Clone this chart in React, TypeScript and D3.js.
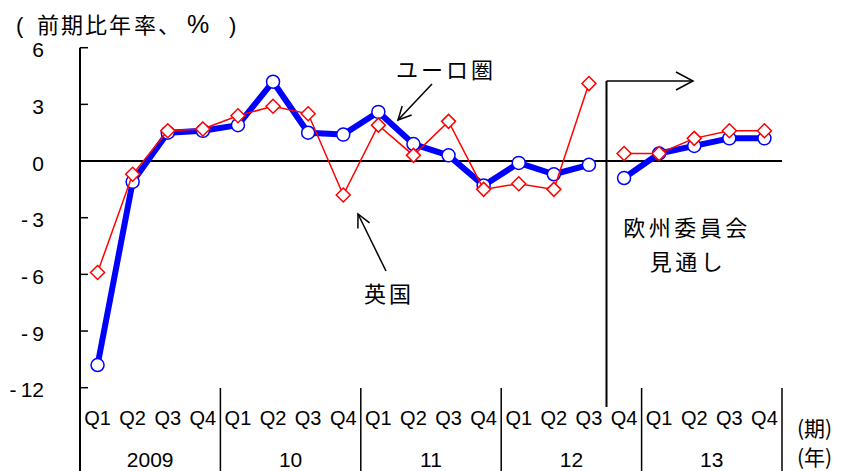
import React from "react";
import * as d3 from "d3";

const quarters = ["Q1","Q2","Q3","Q4","Q1","Q2","Q3","Q4","Q1","Q2","Q3","Q4","Q1","Q2","Q3","Q4","Q1","Q2","Q3","Q4"];
const years = ["2009", "10", "11", "12", "13"];
const euroArea = [-10.8,-1.1,1.5,1.6,1.9,4.2,1.5,1.4,2.6,0.9,0.3,-1.3,-0.1,-0.7,-0.2,-0.9,0.4,0.8,1.2,1.2];
const uk = [-5.9,-0.7,1.6,1.7,2.4,2.9,2.5,-1.8,1.9,0.3,2.1,-1.5,-1.2,-1.5,4.1,0.4,0.4,1.2,1.6,1.6];
const yTicks = [6, 3, 0, -3, -6, -9, -12];
const forecastStart = 15;
const titleChars = ["(", "前", "期", "比", "年", "率", "、", "%", ")"];

const W = 846, H = 471;
const LATIN = "'Liberation Sans', Arial, sans-serif";
const CJK = "'Noto Sans CJK JP', sans-serif";

export default function App() {
  const x = d3.scaleBand<number>().domain(d3.range(quarters.length)).range([80, 782]).padding(0);
  const y = d3.scaleLinear().domain([-12, 6]).range([387.7, 47.7]);
  const cx = (i: number) => (x(i) as number) + x.bandwidth() / 2;

  const line = d3.line<[number, number]>().x(d => cx(d[0])).y(d => y(d[1]));
  const seg = (vals: number[]) => {
    const pts = vals.map((v, i) => [i, v] as [number, number]);
    return [line(pts.slice(0, forecastStart)) || "", line(pts.slice(forecastStart)) || ""];
  };
  const euroSegs = seg(euroArea);
  const ukSegs = seg(uk);
  const y0 = y(0);
  const projX = x(forecastStart) as number;

  const arrowHead = (x1: number, y1: number, x2: number, y2: number, len = 13, half = 6.5) => {
    const dx = x2 - x1, dy = y2 - y1;
    const L = Math.hypot(dx, dy);
    const ux = dx / L, uy = dy / L;
    const bx = x2 - ux * len, by = y2 - uy * len;
    const px = -uy * half, py = ux * half;
    return `M${bx + px},${by + py}L${x2},${y2}L${bx - px},${by - py}`;
  };

  const diamond = (r: number) => `M0,${-r}L${r},0L0,${r}L${-r},0Z`;
  const titleX = [16, 37, 61, 85, 109, 134, 158, 187, 229];

  return (
    <svg width={W} height={H} style={{ position: "absolute", left: 0, top: 0, background: "#fff" }}>
      {/* title */}
      <text y={33} fontFamily={CJK} fontSize={22} fill="#000">
        {titleChars.map((c, i) => (
          <tspan key={i} x={titleX[i]} fontSize={c === "%" ? 25 : 22} fontFamily={c === "%" || c === "(" || c === ")" ? LATIN : CJK}>{c}</tspan>
        ))}
      </text>

      {/* y axis */}
      <line x1={80} x2={80} y1={y(6)} y2={H} stroke="#000" strokeWidth={2} />
      {yTicks.map(t => (
        <g key={t}>
          <line x1={80} x2={88} y1={y(t)} y2={y(t)} stroke="#000" strokeWidth={1.5} />
          <text x={44} y={y(t) + 9.5} textAnchor="end" fontFamily={LATIN} fontSize={21} fill="#000">
            {t < 0 ? "-\u2009" + Math.abs(t) : String(t)}
          </text>
        </g>
      ))}

      {/* zero line */}
      <line x1={80} x2={782} y1={y0} y2={y0} stroke="#000" strokeWidth={2} />

      {/* category separators */}
      {years.map((yr, k) => {
        const xs = (x(k * 4 + 3) as number) + x.bandwidth();
        const xStart = x(k * 4) as number;
        return (
          <g key={yr}>
            <line x1={xs} x2={xs} y1={388} y2={H} stroke="#000" strokeWidth={1.5} />
            <text x={(xStart + xs) / 2} y={467} textAnchor="middle" fontFamily={LATIN} fontSize={21} fill="#000">{yr}</text>
          </g>
        );
      })}
      {quarters.map((q, i) => (
        <text key={i} x={cx(i)} y={424.5} textAnchor="middle" fontFamily={LATIN} fontSize={20} fill="#000">{q}</text>
      ))}
      <text x={797} y={436} fontFamily={CJK} fontSize={21} fill="#000">(期)</text>
      <text x={797} y={465} fontFamily={CJK} fontSize={21} fill="#000">(年)</text>

      {/* projection marker */}
      <line x1={projX} x2={projX} y1={81} y2={407} stroke="#000" strokeWidth={2} />
      <line x1={projX} x2={693} y1={81} y2={81} stroke="#000" strokeWidth={1.5} />
      <path d={arrowHead(projX, 81, 693, 81, 17, 9)} fill="none" stroke="#000" strokeWidth={1.5} />
      <text x={687} y={236} textAnchor="middle" fontFamily={CJK} fontSize={22} letterSpacing={3.5} fill="#000">欧州委員会</text>
      <text x={688} y={270} textAnchor="middle" fontFamily={CJK} fontSize={22} letterSpacing={3.5} fill="#000">見通し</text>

      {/* euro area */}
      {euroSegs.map((d, k) => (
        <path key={k} d={d} fill="none" stroke="#0000ff" strokeWidth={6} strokeLinejoin="round" />
      ))}
      {euroArea.map((v, i) => (
        <circle key={i} cx={cx(i)} cy={y(v)} r={6.5} fill="#fff" stroke="#0000ff" strokeWidth={1.5} />
      ))}

      {/* uk */}
      {ukSegs.map((d, k) => (
        <path key={k} d={d} fill="none" stroke="#ff0000" strokeWidth={1.5} />
      ))}
      {uk.map((v, i) => (
        <path key={i} d={diamond(7)} transform={`translate(${cx(i)},${y(v)})`} fill="#fff" stroke="#ff0000" strokeWidth={1.5} />
      ))}

      {/* annotations */}
      <text x={396} y={78} fontFamily={CJK} fontSize={22} letterSpacing={3} fill="#000">ユーロ圏</text>
      <line x1={432} y1={84} x2={398} y2={120} stroke="#000" strokeWidth={1.5} />
      <path d={arrowHead(432, 84, 398, 120)} fill="none" stroke="#000" strokeWidth={1.5} />
      <text x={364} y={302} fontFamily={CJK} fontSize={22} letterSpacing={3} fill="#000">英国</text>
      <line x1={386} y1={271} x2={358} y2={214} stroke="#000" strokeWidth={1.5} />
      <path d={arrowHead(386, 271, 358, 214)} fill="none" stroke="#000" strokeWidth={1.5} />
    </svg>
  );
}
